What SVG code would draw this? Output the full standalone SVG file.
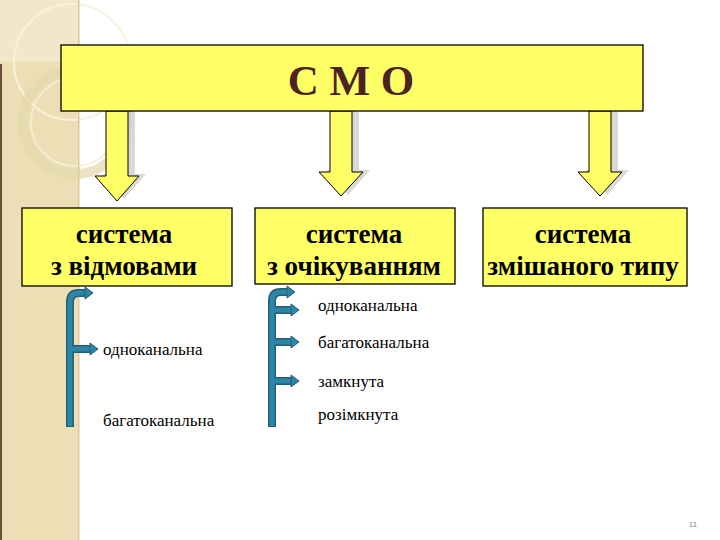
<svg xmlns="http://www.w3.org/2000/svg" width="720" height="540" viewBox="0 0 720 540">
<style>
.box{fill:#ffff66;stroke:#000;stroke-width:1.3}
.big{font-family:"Liberation Serif",serif;font-weight:bold;font-size:27px;fill:#000;text-anchor:middle}
.title{font-family:"Liberation Serif",serif;font-weight:bold;font-size:43px;fill:#4b2323;text-anchor:middle}
.small{font-family:"Liberation Serif",serif;font-size:17px;fill:#000}
.arr{fill:#ffff66;stroke:#000;stroke-width:1}
.sh{fill:#c9c9c9;opacity:0.7}
.br{fill:none;stroke:#1f5f78;stroke-width:8;stroke-linecap:butt}
.br2{fill:none;stroke:#2e84a4;stroke-width:5;stroke-linecap:butt}
.ah{fill:#2e84a4;stroke:#1f5f78;stroke-width:1}
</style>
<rect width="720" height="540" fill="#fff"/>
<g id="sidebar">
<rect x="0" y="0" width="79" height="540" fill="#ecdfb6"/>
<rect x="0" y="0" width="79" height="62" fill="#f2e8c9"/>
<circle cx="72" cy="62" r="58" fill="none" stroke="#f8f1dc" stroke-width="2"/>
<circle cx="75" cy="122" r="52" fill="none" stroke="#e4d7ad" stroke-width="10" opacity="0.7"/>
<circle cx="75" cy="122" r="44" fill="none" stroke="#f6eed6" stroke-width="1.5"/>
<rect x="0" y="64" width="2" height="476" fill="#6b5238"/>
<rect x="78" y="0" width="1.5" height="540" fill="#d9c9a0"/>
</g>
<g id="connectors">
<path class="sh" d="M113,110 h22 v64 h11 l-22,25 l-22,-25 h11 z"/>
<path class="arr" d="M106,111 h22 v65 h11 l-22,25 l-22,-25 h11 z"/>
<path class="sh" d="M337,110 h22 v60 h11 l-22,25 l-22,-25 h11 z"/>
<path class="arr" d="M330,111 h22 v61 h11 l-22,24 l-22,-24 h11 z"/>
<path class="sh" d="M596,110 h22 v60 h11 l-22,25 l-22,-25 h11 z"/>
<path class="arr" d="M589,111 h22 v61 h11 l-22,24 l-22,-24 h11 z"/>
<path class="br" d="M70,427 V302 Q70,293 79,293 H86 M70,349 H91"/>
<path class="br2" d="M70,426 V302 Q70,293 79,293 H86 M70,349 H91"/>
<path class="ah" d="M85,287 l8,6 l-8,6 z"/>
<path class="ah" d="M90,343 l8,6 l-8,6 z"/>
<path class="br" d="M272,427 V301 Q272,292 281,292 H288 M272,310 H292 M272,342 H292 M272,381 H292"/>
<path class="br2" d="M272,426 V301 Q272,292 281,292 H288 M272,310 H292 M272,342 H292 M272,381 H292"/>
<path class="ah" d="M287,286 l8,6 l-8,6 z"/>
<path class="ah" d="M291,304 l8,6 l-8,6 z"/>
<path class="ah" d="M291,336 l8,6 l-8,6 z"/>
<path class="ah" d="M291,375 l8,6 l-8,6 z"/>
</g>
<g id="smo">
<rect class="box" x="61" y="45" width="582" height="66"/>
<text class="title" x="351" y="95">С М О</text>
</g>
<g id="n1">
<rect class="box" x="22" y="208" width="210" height="78"/>
<text class="big" x="124" y="243">система</text>
<text class="big" x="124" y="275">з відмовами</text>
</g>
<g id="n2">
<rect class="box" x="255" y="208" width="200" height="76"/>
<text class="big" x="354" y="243">система</text>
<text class="big" x="354" y="275">з очікуванням</text>
</g>
<g id="n3">
<rect class="box" x="483" y="208" width="204" height="78"/>
<text class="big" x="583" y="243">система</text>
<text class="big" x="583" y="275">змішаного типу</text>
</g>
<g id="l1">
<text class="small" x="103" y="355">одноканальна</text>
<text class="small" x="103" y="426">багатоканальна</text>
</g>
<g id="l2">
<text class="small" x="318" y="311">одноканальна</text>
<text class="small" x="318" y="348">багатоканальна</text>
<text class="small" x="318" y="387">замкнута</text>
<text class="small" x="318" y="420">розімкнута</text>
</g>
<text x="693" y="527" font-family="Liberation Sans,sans-serif" font-size="8" fill="#888" text-anchor="middle">11</text>
</svg>
